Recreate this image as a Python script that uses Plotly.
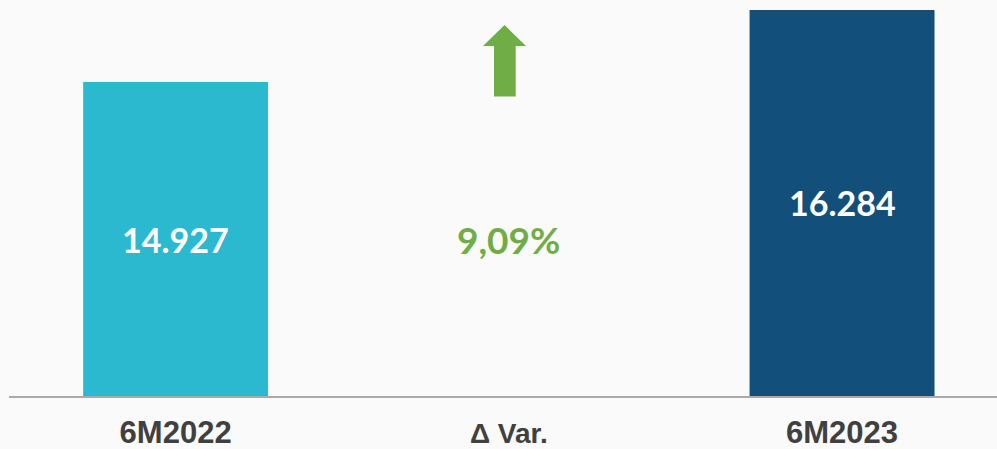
import plotly.graph_objects as go

categories = ["6M2022", "Δ Var.", "6M2023"]
bar_categories = ["6M2022", "6M2023"]
bar_values = [14927, 16284]
bar_labels = ["14.927", "16.284"]
bar_colors = ["#2bb9cf", "#124f7a"]
variation_label = "9,09%"
tick_labels = ["6M2022", "<span style='font-size:28px'>Δ Var.</span>", "6M2023"]

W, H = 997, 449
ml, mr, mt, mb = 9, 0, 0, 53
y_range = [9018, 16472]

fig = go.Figure()
fig.add_trace(go.Bar(
    x=bar_categories, y=bar_values,
    marker=dict(color=bar_colors, line=dict(width=0)),
    width=0.555, hoverinfo="skip",
))

# value labels centred in the visible part of each bar
for cat, val, lab in zip(bar_categories, bar_values, bar_labels):
    fig.add_annotation(
        x=cat, y=(val + y_range[0]) / 2, xref="x", yref="y", text=lab,
        showarrow=False, font=dict(family="Lato", size=34, color="white", weight="bold"),
    )

fig.add_annotation(
    x="Δ Var.", y=11960, xref="x", yref="y", text=variation_label,
    showarrow=False, font=dict(family="Lato", size=37, color="#70ad47", weight="bold"),
)

# block arrow in paper coordinates
pw = W - ml - mr
ph = H - mt - mb
def px(X):
    return (X - ml) / pw
def py(Y):
    return (ph - (Y - mt)) / ph
pts = [(504.5, 25), (526, 46), (515.7, 46), (515.7, 96.5), (494, 96.5), (494, 46), (483, 46)]
path = "M " + " L ".join(f"{px(a):.5f},{py(b):.5f}" for a, b in pts) + " Z"
fig.add_shape(type="path", path=path, xref="paper", yref="paper",
              fillcolor="#70ad47", line=dict(width=0))

fig.update_layout(
    width=W, height=H,
    margin=dict(l=ml, r=mr, t=mt, b=mb, pad=0),
    paper_bgcolor="#fafafa", plot_bgcolor="#fafafa",
    showlegend=False,
    xaxis=dict(
        type="category", categoryorder="array", categoryarray=categories,
        tickmode="array", tickvals=categories, ticktext=tick_labels,
        range=[-0.5, 2.465], showgrid=False, zeroline=False,
        showline=True, linecolor="#aaaaaa", linewidth=2,
        ticks="", ticklabelstandoff=8,
        tickfont=dict(family="Liberation Sans", size=31, color="#404040", weight="bold"),
    ),
    yaxis=dict(range=y_range, visible=False, showgrid=False, zeroline=False),
)

fig.write_html("out.html", config={"displayModeBar": False, "staticPlot": True},
               post_script="document.body.style.margin='0';document.body.style.background='#fafafa';")
